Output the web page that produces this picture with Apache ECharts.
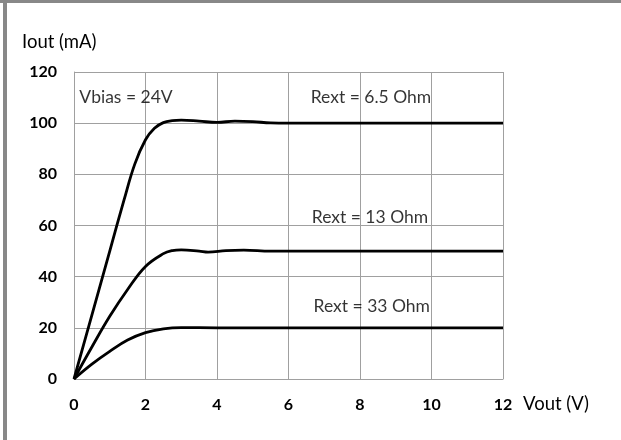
<!DOCTYPE html>
<html><head><meta charset="utf-8">
<script src="https://cdn.jsdelivr.net/npm/echarts@6/dist/echarts.min.js"></script>
<style>html,body{margin:0;padding:0;background:#fff}#c{width:621px;height:440px}</style>
</head><body><div id="c"></div>
<script>
// Data (V, mA)
const xTicks = [0, 2, 4, 6, 8, 10, 12];
const yTicks = [0, 20, 40, 60, 80, 100, 120];
const rext65 = [[0,0],[0.5,25],[1,50],[1.4,70],[1.7,84],[2,93.5],[2.25,98],[2.5,100.2],[2.75,101],[3,101.2],[3.5,100.8],[4,100.3],[4.5,100.8],[5,100.6],[5.5,100.1],[6,100],[9,100],[12,100]];
const rext13 = [[0,0],[0.5,12.5],[1,24.5],[1.5,35],[2,44],[2.5,49],[2.75,50.2],[3,50.5],[3.5,50],[3.75,49.6],[4.25,50.2],[4.75,50.4],[5.5,50],[9,50],[12,50]];
const rext33 = [[0,0],[0.5,5.8],[1,10.8],[1.5,15.2],[2,18.1],[2.5,19.6],[3,20.1],[4,20],[8,20],[12,20]];
const labels = [
  {text:'Vbias = 24V', x:0.15, y:110},
  {text:'Rext = 6.5 Ohm', x:6.62, y:110},
  {text:'Rext = 13 Ohm', x:6.65, y:63},
  {text:'Rext = 33 Ohm', x:6.7, y:28.5}
];

const FONT = 'Lato';
const chart = echarts.init(document.getElementById('c'));
const lineStyle = {color:'#000', width:2.8};
function mkSeries(name, d){
  return {name, type:'line', data:d, smooth:0.4, symbol:'none', lineStyle, z:3, animation:false};
}
chart.setOption({
  animation:false,
  grid:{left:74, right:118, top:72, bottom:61},
  xAxis:{type:'value', min:0, max:12, interval:2,
    name:'Vout (V)', nameLocation:'end', nameGap:20,
    nameTextStyle:{fontFamily:FONT, fontSize:18.5, color:'#000', verticalAlign:'top', padding:[16,0,0,0]},
    axisLine:{lineStyle:{color:'#a0a0a0', width:1}}, axisTick:{show:false},
    axisLabel:{fontFamily:FONT, fontSize:16, fontWeight:'bold', color:'#000', margin:18},
    splitLine:{show:true, lineStyle:{color:'#a0a0a0', width:1}}},
  yAxis:{type:'value', min:0, max:120, interval:20,
    axisLine:{show:true, lineStyle:{color:'#a0a0a0', width:1}}, axisTick:{show:false},
    axisLabel:{fontFamily:FONT, fontSize:16, fontWeight:'bold', color:'#000', margin:17},
    splitLine:{show:true, lineStyle:{color:'#a0a0a0', width:1}}},
  series:[
    mkSeries('6.5', rext65), mkSeries('13', rext13), mkSeries('33', rext33),
    {type:'scatter', data:labels.map(l=>[l.x,l.y,l.text]), symbolSize:0, silent:true, z:5,
     label:{show:true, position:'right', distance:0, formatter:p=>p.data[2], fontFamily:FONT, fontSize:17.5, color:'#000'}}
  ],
  graphic:[
    {type:'rect', shape:{x:0,y:0,width:621,height:3}, style:{fill:'#888'}},
    {type:'rect', shape:{x:3,y:0,width:4,height:440}, style:{fill:'#888'}},
    {type:'text', left:22, top:33, style:{text:'Iout (mA)', fontFamily:FONT, fontSize:18.5, fill:'#000'}}
  ]
});
</script></body></html>
